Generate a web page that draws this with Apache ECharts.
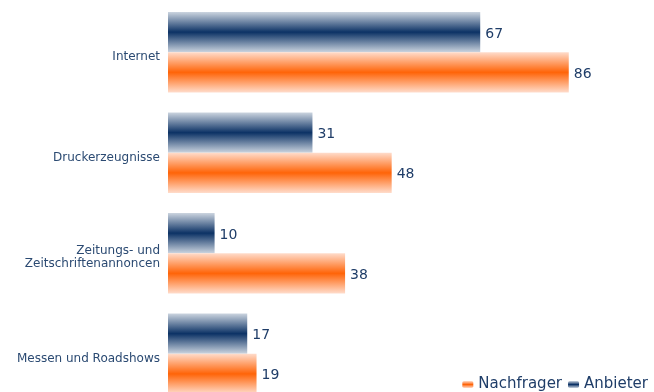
<!DOCTYPE html>
<html>
<head>
<meta charset="utf-8">
<script src="https://cdn.jsdelivr.net/npm/echarts@6/dist/echarts.min.js"></script>
<style>
  html, body { margin: 0; padding: 0; background: #fff; overflow: hidden; }
  #chart { width: 654px; height: 406px; }
</style>
</head>
<body>
<div id="chart"></div>
<script>
// Kanäle und Anteile (in %)
const categories = ['Internet', 'Druckerzeugnisse', 'Zeitungs- und\nZeitschriftenannoncen', 'Messen und Roadshows'];
const anbieter = [67, 31, 10, 17];
const nachfrager = [86, 48, 38, 19];

function bandGradient(edge, core) {
  return new echarts.graphic.LinearGradient(0, 0, 0, 1, [
    { offset: 0, color: edge },
    { offset: 0.5, color: core },
    { offset: 1, color: edge }
  ]);
}

const textColor = '#1f3d68';
const chart = echarts.init(document.getElementById('chart'), null, { renderer: 'canvas' });

const valueLabel = {
  show: true, position: 'right', distance: 5, offset: [0, 2],
  color: textColor, fontSize: 14
};

// the first line gets a taller, bottom-aligned box so the label block sits a little low
function categoryLabel(value) {
  return value.split('\n')
    .map((line, i) => (i === 0 ? '{first|' : '{line|') + line + '}')
    .join('\n');
}

chart.setOption({
  animation: false,
  textStyle: { fontFamily: 'DejaVu Sans' },
  grid: { left: 168, right: 20, top: 2, bottom: 2 },
  xAxis: {
    type: 'value', min: 0, max: 100,
    show: false
  },
  yAxis: {
    type: 'category',
    data: categories,
    inverse: true,
    axisLine: { show: false },
    axisTick: { show: false },
    axisLabel: {
      margin: 8,
      align: 'right',
      formatter: categoryLabel,
      rich: {
        first: { color: '#2b4a72', fontSize: 12, lineHeight: 22, verticalAlign: 'bottom', align: 'right' },
        line: { color: '#2b4a72', fontSize: 12, lineHeight: 15, align: 'right' }
      }
    }
  },
  legend: {
    data: ['Nachfrager', 'Anbieter'],
    right: 1,
    top: 372,
    itemWidth: 11,
    itemHeight: 7,
    itemGap: 6,
    textStyle: { color: textColor, fontSize: 15 }
  },
  series: [
    {
      name: 'Anbieter',
      type: 'bar',
      data: anbieter,
      barGap: '0%',
      barCategoryGap: '20%',
      itemStyle: { color: bandGradient('#cbd4df', '#0c3265') },
      label: valueLabel
    },
    {
      name: 'Nachfrager',
      type: 'bar',
      data: nachfrager,
      barGap: '0%',
      barCategoryGap: '20%',
      itemStyle: { color: bandGradient('#ffdccb', '#ff6408') },
      label: valueLabel
    }
  ]
});
</script>
</body>
</html>
